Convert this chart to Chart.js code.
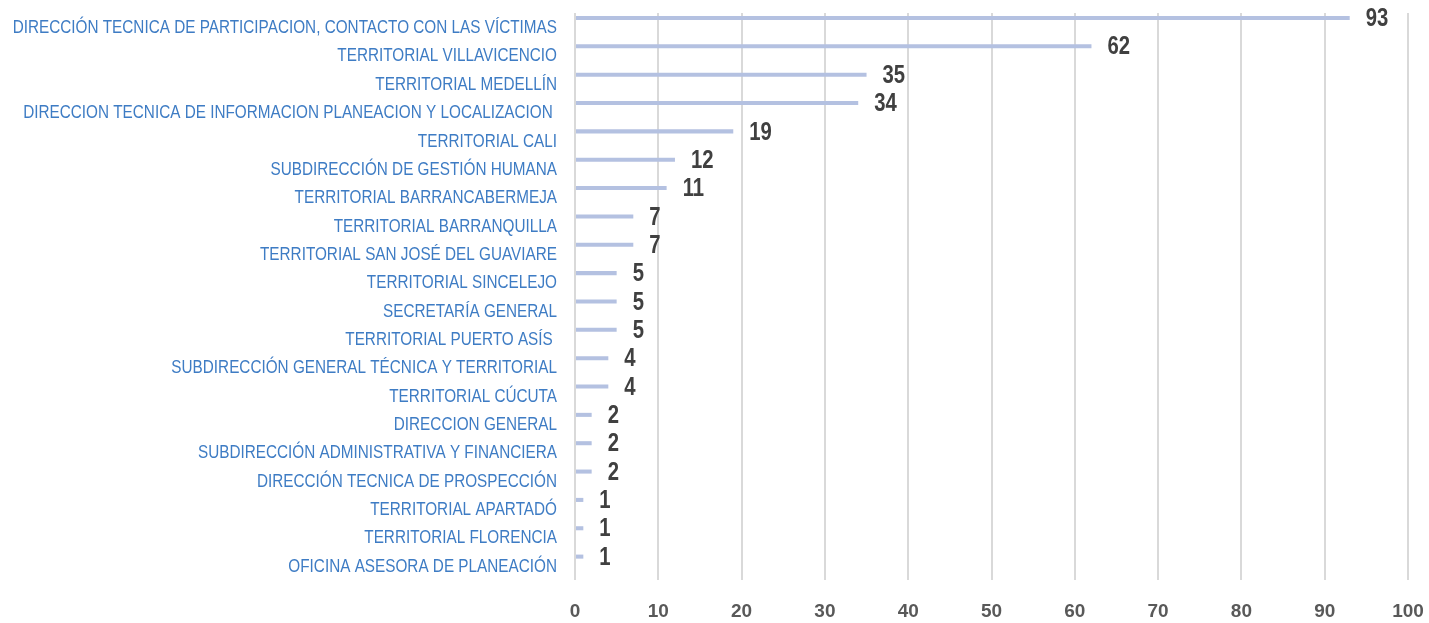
<!DOCTYPE html>
<html>
<head>
<meta charset="utf-8">
<script src="https://cdn.jsdelivr.net/npm/chart.js@4"></script>
<style>
  body { margin: 0; background: #fff; }
  #chart { display: block; }
</style>
</head>
<body>
<canvas id="chart" width="1429" height="623"></canvas>
<script>
const categories = [
    'DIRECCIÓN TECNICA DE PARTICIPACION, CONTACTO CON LAS VÍCTIMAS',
    'TERRITORIAL VILLAVICENCIO',
    'TERRITORIAL MEDELLÍN',
    'DIRECCION TECNICA DE INFORMACION PLANEACION Y LOCALIZACION ',
    'TERRITORIAL CALI',
    'SUBDIRECCIÓN DE GESTIÓN HUMANA',
    'TERRITORIAL BARRANCABERMEJA',
    'TERRITORIAL BARRANQUILLA',
    'TERRITORIAL SAN JOSÉ DEL GUAVIARE',
    'TERRITORIAL SINCELEJO',
    'SECRETARÍA GENERAL',
    'TERRITORIAL PUERTO ASÍS ',
    'SUBDIRECCIÓN GENERAL TÉCNICA Y TERRITORIAL',
    'TERRITORIAL CÚCUTA',
    'DIRECCION GENERAL',
    'SUBDIRECCIÓN ADMINISTRATIVA Y FINANCIERA',
    'DIRECCIÓN TECNICA DE PROSPECCIÓN',
    'TERRITORIAL APARTADÓ',
    'TERRITORIAL FLORENCIA',
    'OFICINA ASESORA DE PLANEACIÓN'
];
const values = [93, 62, 35, 34, 19, 12, 11, 7, 7, 5, 5, 5, 4, 4, 2, 2, 2, 1, 1, 1];
const spacer = categories.map(() => null);
const xTicks = [0, 10, 20, 30, 40, 50, 60, 70, 80, 90, 100];

const sans = '"Liberation Sans", Arial, sans-serif';

// no narrow font installed, so squeeze the text horizontally
function narrowText(ctx, text, x, y, squeeze) {
    ctx.save();
    ctx.scale(squeeze, 1);
    ctx.fillText(text, x / squeeze, y);
    ctx.restore();
}

// category names left of the axis and values right of each bar
const textLayer = {
    id: 'textLayer',
    afterDatasetsDraw(chart) {
        const ctx = chart.ctx;
        const yScale = chart.scales.y;
        const meta = chart.getDatasetMeta(0);

        ctx.save();
        ctx.font = '18px ' + sans;
        ctx.fillStyle = '#3e7cc4';
        ctx.textAlign = 'right';
        ctx.textBaseline = 'middle';
        categories.forEach((name, i) => {
            narrowText(ctx, name, yScale.right - 18, yScale.getPixelForTick(i) + 1, 0.85);
        });

        ctx.font = 'bold 26px ' + sans;
        ctx.fillStyle = '#404040';
        ctx.textAlign = 'left';
        meta.data.forEach((bar, i) => {
            narrowText(ctx, String(values[i]), bar.x + 16, bar.y + 1, 0.78);
        });
        ctx.restore();
    }
};

new Chart(document.getElementById('chart'), {
    type: 'bar',
    data: {
        labels: categories,
        datasets: [
            {
                data: values,
                backgroundColor: '#b4c1e1',
                categoryPercentage: 1.3,
                barPercentage: 0.22
            },
            {
                data: spacer,
                backgroundColor: 'rgba(0,0,0,0)',
                categoryPercentage: 1.3,
                barPercentage: 0.22
            }
        ]
    },
    options: {
        indexAxis: 'y',
        responsive: false,
        animation: false,
        layout: { padding: { top: 13, right: 21, left: 0, bottom: 0 } },
        plugins: {
            legend: { display: false },
            tooltip: { enabled: false }
        },
        scales: {
            x: {
                min: 0,
                max: 100,
                afterFit: (scale) => {
                    scale.height = 43;
                    scale.paddingLeft = 0;
                    scale.paddingRight = 0;
                },
                afterBuildTicks: (scale) => { scale.ticks = xTicks.map(v => ({ value: v })); },
                grid: { color: '#d9d9d9', lineWidth: 2, drawTicks: false },
                border: { display: false },
                ticks: {
                    padding: 20,
                    color: '#595959',
                    font: { family: sans, size: 19, weight: 'bold' }
                }
            },
            y: {
                afterFit: (scale) => {
                    scale.width = 575;
                    scale.paddingTop = 0;
                    scale.paddingBottom = 0;
                },
                grid: { display: false, drawTicks: false },
                border: { display: false },
                ticks: { display: false, autoSkip: false }
            }
        }
    },
    plugins: [textLayer]
});
</script>
</body>
</html>
